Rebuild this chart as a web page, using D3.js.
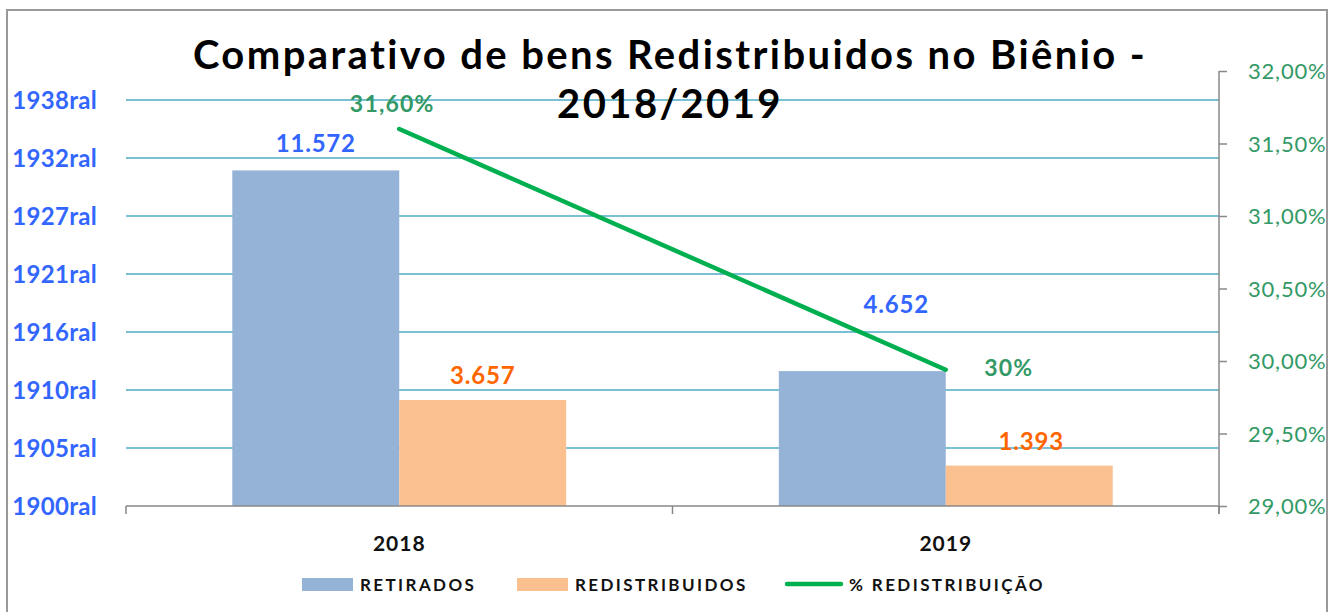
<!DOCTYPE html>
<html>
<head>
<meta charset="utf-8">
<script src="https://cdn.jsdelivr.net/npm/d3@7"></script>
<style>
  html, body { margin: 0; padding: 0; background: #fff; }
  svg { display: block; }
</style>
</head>
<body>
<svg id="chart" width="1341" height="612"></svg>
<script>
// ---- data ----
const categories = ["2018", "2019"];
const seriesNames = ["RETIRADOS", "REDISTRIBUIDOS"];
const retirados = [11572, 4652];
const redistribuidos = [3657, 1393];
const pctRedistribuicao = [0.3160, 0.2994];
const pctLabels = ["31,60%", "30%"];
const barLabels = [["11.572", "4.652"], ["3.657", "1.393"]];
const leftTickValues = [0, 2000, 4000, 6000, 8000, 10000, 12000, 14000];
const leftTickLabels = ["1900ral", "1905ral", "1910ral", "1916ral", "1921ral", "1927ral", "1932ral", "1938ral"];
const rightTickValues = [0.29, 0.295, 0.30, 0.305, 0.31, 0.315, 0.32];
const rightTickLabels = ["29,00%", "29,50%", "30,00%", "30,50%", "31,00%", "31,50%", "32,00%"];
const legendLabels = ["RETIRADOS", "REDISTRIBUIDOS", "% REDISTRIBUIÇÃO"];
const titleLines = ["Comparativo de bens Redistribuidos no Biênio -", "2018/2019"];

const colors = { RETIRADOS: "#95B3D7", REDISTRIBUIDOS: "#FAC090", line: "#00B050" };
const labelColors = ["#3366FF", "#FF6600"];
const FONT = "Lato, 'Open Sans', sans-serif";

const svg = d3.select("#chart");

// border
svg.append("rect").attr("x", 7).attr("y", 10).attr("width", 1320).attr("height", 620)
  .attr("fill", "#fff").attr("stroke", "#999").attr("stroke-width", 2);

const plot = { left: 126, right: 1219, top: 100, bottom: 506, rightTop: 71 };

const x0 = d3.scaleBand().domain(categories).range([plot.left, plot.right])
  .paddingInner(0.389).paddingOuter(0.1945);
const x1 = d3.scaleBand().domain(seriesNames).range([0, x0.bandwidth()]);
const yL = d3.scaleLinear().domain([0, 14000]).range([plot.bottom, plot.top]);
const yR = d3.scaleLinear().domain([0.29, 0.32]).range([plot.bottom, plot.rightTop]);

// gridlines
svg.append("g").selectAll("line").data(leftTickValues.slice(1)).join("line")
  .attr("x1", plot.left).attr("x2", plot.right)
  .attr("y1", d => yL(d)).attr("y2", d => yL(d))
  .attr("stroke", "#4BACC6").attr("stroke-width", 1.5);

// left tick labels
svg.append("g").selectAll("text").data(leftTickValues).join("text")
  .attr("x", 97).attr("y", d => yL(d)).attr("dy", "0.36em")
  .attr("text-anchor", "end")
  .attr("font-family", FONT).attr("font-weight", "bold").attr("font-size", 24)
  .attr("letter-spacing", 0.3)
  .attr("fill", "#3366FF")
  .text((d, i) => leftTickLabels[i]);

// bars
const seriesValues = [retirados, redistribuidos];
const barG = svg.append("g");
seriesNames.forEach((s, si) => {
  barG.selectAll("rect.s" + si).data(categories).join("rect")
    .attr("class", "s" + si)
    .attr("x", c => x0(c) + x1(s))
    .attr("width", x1.bandwidth())
    .attr("y", (c, i) => yL(seriesValues[si][i]))
    .attr("height", (c, i) => yL(0) - yL(seriesValues[si][i]))
    .attr("fill", colors[s]);
});

// x axis baseline
const xAxis = d3.axisBottom(x0).tickSize(0).tickFormat("");
const gx = svg.append("g").attr("transform", `translate(0,${plot.bottom})`).call(xAxis);
gx.select(".domain").attr("stroke", "#888").attr("stroke-width", 1.5).attr("d", `M${plot.left},0H${plot.right}`);
const boundaries = [plot.left, (plot.left + plot.right) / 2, plot.right];
gx.selectAll("line.b").data(boundaries).join("line").attr("class", "b")
  .attr("x1", d => d).attr("x2", d => d).attr("y1", 0).attr("y2", 8)
  .attr("stroke", "#888").attr("stroke-width", 1.5);
// category labels
svg.append("g").selectAll("text").data(categories).join("text")
  .attr("x", c => x0(c) + x0.bandwidth() / 2).attr("y", 551)
  .attr("text-anchor", "middle")
  .attr("font-family", FONT).attr("font-weight", "bold").attr("font-size", 21)
  .attr("letter-spacing", 1)
  .attr("fill", "#111").text(c => c);

// right axis
const rAxis = d3.axisRight(yR).tickValues(rightTickValues).tickSize(8)
  .tickFormat((d, i) => rightTickLabels[i]);
const gr = svg.append("g").attr("transform", `translate(${plot.right},0)`).call(rAxis);
gr.select(".domain").attr("stroke", "#888").attr("stroke-width", 1.5)
  .attr("d", `M0,${plot.rightTop}V${plot.bottom + 8}`);
gr.selectAll(".tick line").attr("stroke", "#888").attr("stroke-width", 1.5);
gr.selectAll(".tick text").attr("x", 29).attr("font-family", FONT).attr("font-size", 22)
  .attr("letter-spacing", 0.8)
  .attr("fill", "#339966").attr("dy", "0.36em");

// line
const cx = c => x0(c) + x0.bandwidth() / 2;
const lineGen = d3.line().x((d, i) => cx(categories[i])).y(d => yR(d));
svg.append("path").datum(pctRedistribuicao).attr("d", lineGen)
  .attr("fill", "none").attr("stroke", colors.line).attr("stroke-width", 4.5)
  .attr("stroke-linecap", "round");

// bar data labels (offsets from bar tops)
const barLabelOffsets = [[{dx: 0, dy: -18}, {dx: 34, dy: -58}], [{dx: 0, dy: -16}, {dx: 2, dy: -16}]];
seriesNames.forEach((s, si) => {
  svg.append("g").selectAll("text").data(categories).join("text")
    .attr("x", (c, i) => x0(c) + x1(s) + x1.bandwidth() / 2 + barLabelOffsets[si][i].dx)
    .attr("y", (c, i) => yL(seriesValues[si][i]) + barLabelOffsets[si][i].dy)
    .attr("text-anchor", "middle")
    .attr("font-family", FONT).attr("font-weight", "bold").attr("font-size", 24)
    .attr("letter-spacing", 0.8)
    .attr("fill", labelColors[si])
    .text((c, i) => barLabels[si][i]);
});

// pct labels
const pctOffsets = [{dx: -7, dy: -17}, {dx: 63, dy: 6}];
svg.append("g").selectAll("text").data(pctRedistribuicao).join("text")
  .attr("x", (d, i) => cx(categories[i]) + pctOffsets[i].dx)
  .attr("y", (d, i) => yR(d) + pctOffsets[i].dy)
  .attr("text-anchor", "middle")
  .attr("font-family", FONT).attr("font-weight", "bold").attr("font-size", 23)
  .attr("letter-spacing", 1.2)
  .attr("fill", "#339966")
  .text((d, i) => pctLabels[i]);

// title
svg.append("text").attr("x", 670).attr("y", 69).attr("text-anchor", "middle")
  .attr("font-family", FONT).attr("font-weight", "bold").attr("font-size", 40)
  .attr("letter-spacing", 2.4)
  .attr("fill", "#000").text(titleLines[0]);
svg.append("text").attr("x", 670).attr("y", 118).attr("text-anchor", "middle")
  .attr("font-family", FONT).attr("font-weight", "bold").attr("font-size", 40)
  .attr("letter-spacing", 2.4)
  .attr("fill", "#000").text(titleLines[1]);

// legend
const legend = svg.append("g").attr("font-family", FONT).attr("font-weight", "bold")
  .attr("font-size", 17).attr("fill", "#111");
const legendX = [302, 517, 786];
legendLabels.forEach((l, i) => {
  if (i < 2) {
    legend.append("rect").attr("x", legendX[i]).attr("y", 578).attr("width", 51).attr("height", 13)
      .attr("fill", colors[seriesNames[i]]);
  } else {
    legend.append("line").attr("x1", legendX[i] + 1).attr("x2", legendX[i] + 55)
      .attr("y1", 584).attr("y2", 584).attr("stroke", colors.line).attr("stroke-width", 4.5)
      .attr("stroke-linecap", "round");
  }
  legend.append("text").attr("x", legendX[i] + (i < 2 ? 58 : 63)).attr("y", 591)
    .attr("letter-spacing", 2.4).text(l);
});
</script>
</body>
</html>
